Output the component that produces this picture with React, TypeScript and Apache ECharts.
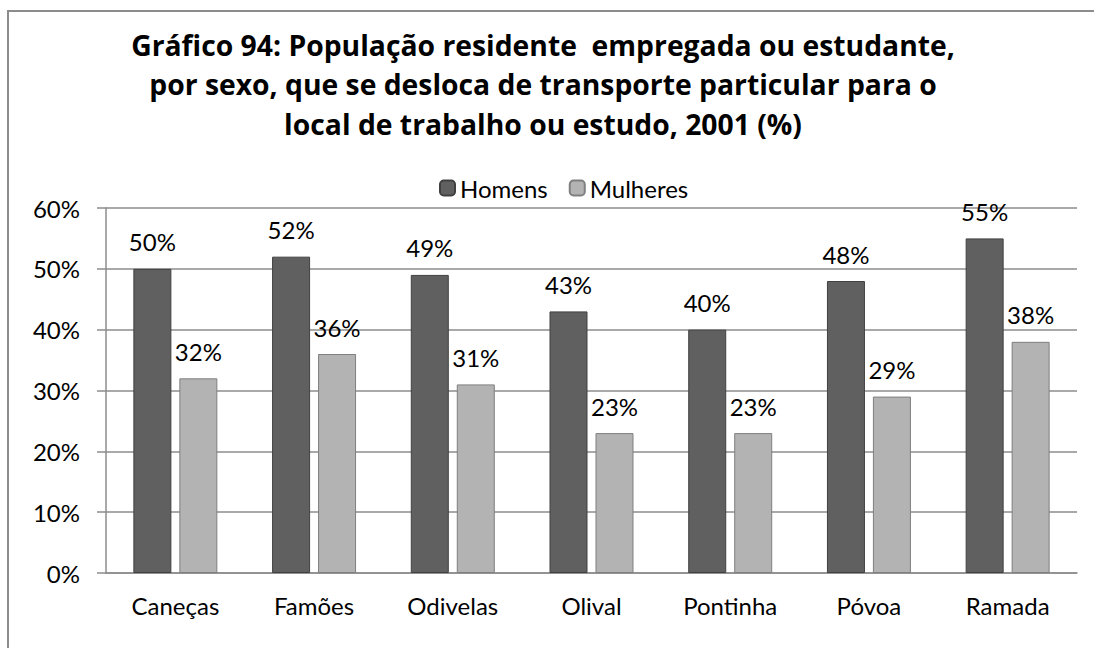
import React, { useEffect, useRef } from "react";
import * as echarts from "echarts";

const categories = ["Caneças", "Famões", "Odivelas", "Olival", "Pontinha", "Póvoa", "Ramada"];
const homens = [50, 52, 49, 43, 40, 48, 55];
const mulheres = [32, 36, 31, 23, 23, 29, 38];
const yTicks = [0, 10, 20, 30, 40, 50, 60];
const titleLines = [
  "Gráfico 94: População residente  empregada ou estudante,",
  "por sexo, que se desloca de transporte particular para o",
  "local de trabalho ou estudo, 2001 (%)",
];

const FONT = "Lato, 'Open Sans', sans-serif";
const TITLE_FONT = "'Open Sans', Lato, sans-serif";

export default function App() {
  const ref = useRef<HTMLDivElement>(null);
  useEffect(() => {
    if (!ref.current) return;
    const chart = echarts.init(ref.current, null, { renderer: "svg" });
    chart.setOption({
      animation: false,
      backgroundColor: "#ffffff",
      textStyle: { fontFamily: FONT },
      title: {
        text: titleLines.join("\n"),
        left: 538,
        textAlign: "center",
        top: 20,
        textStyle: { fontFamily: TITLE_FONT, fontSize: 28.3, fontWeight: "bold", color: "#000", lineHeight: 39.5 },
      },
      legend: {
        top: 171,
        left: 434,
        itemWidth: 15,
        itemHeight: 15,
        itemGap: 21,
        textStyle: { fontFamily: FONT, fontSize: 24, color: "#000" },
        data: ["Homens", "Mulheres"],
      },
      graphic: [
        {
          type: "polyline",
          shape: { points: [[8, 648], [8, 11], [1094, 11]] },
          style: { fill: "none", stroke: "#8c8c8c", lineWidth: 2 },
          silent: true,
        },
      ],
      grid: { left: 106, right: 17, top: 208, bottom: 75 },
      xAxis: {
        type: "category",
        data: categories,
        axisTick: { show: false },
        axisLine: { lineStyle: { color: "#8c8c8c", width: 1.5 } },
        axisLabel: { fontFamily: FONT, fontSize: 24, color: "#000", margin: 20 },
      },
      yAxis: {
        type: "value",
        min: yTicks[0],
        max: yTicks[yTicks.length - 1],
        interval: 10,
        axisLine: { show: true, lineStyle: { color: "#8c8c8c", width: 1.5 } },
        axisTick: { show: true, length: 9, lineStyle: { color: "#8c8c8c", width: 1.5 } },
        splitLine: { lineStyle: { color: "#8c8c8c", width: 1.5 } },
        axisLabel: { fontFamily: FONT, fontSize: 24, color: "#000", margin: 26, formatter: "{value}%" },
      },
      series: [
        {
          name: "Homens",
          type: "bar",
          data: homens,
          barWidth: 38,
          barGap: "21%",
          itemStyle: { color: "#606060", borderColor: "#404040", borderWidth: 1 },
          label: {
            show: true,
            position: "top",
            distance: 15,
            formatter: "{c}%",
            fontFamily: FONT,
            fontSize: 24,
            color: "#000",
          },
        },
        {
          name: "Mulheres",
          type: "bar",
          data: mulheres,
          barWidth: 38,
          itemStyle: { color: "#b3b3b3", borderColor: "#7f7f7f", borderWidth: 1 },
          label: {
            show: true,
            position: "top",
            distance: 15,
            formatter: "{c}%",
            fontFamily: FONT,
            fontSize: 24,
            color: "#000",
          },
        },
      ],
    });
    return () => chart.dispose();
  }, []);
  return (
    <div
      ref={ref}
      style={{ position: "fixed", left: 0, top: 0, width: 1094, height: 648 }}
    />
  );
}
